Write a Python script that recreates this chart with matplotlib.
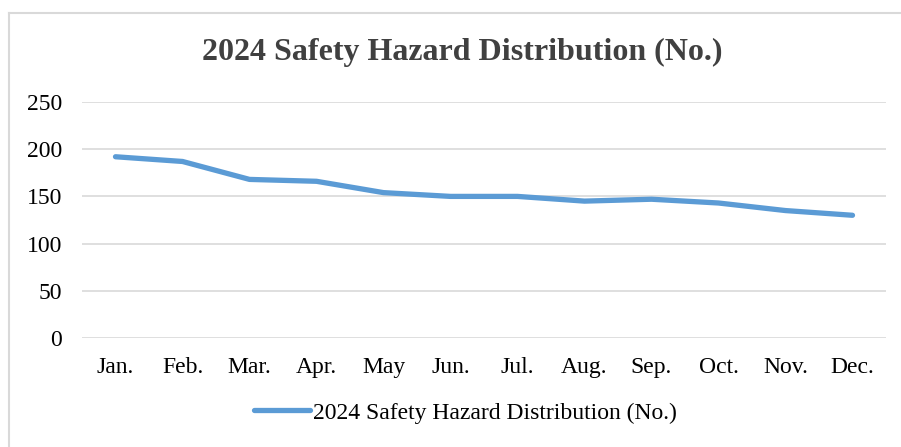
import matplotlib.pyplot as plt
from matplotlib.lines import Line2D

months = ["Jan.", "Feb.", "Mar.", "Apr.", "May", "Jun.", "Jul.", "Aug.", "Sep.", "Oct.", "Nov.", "Dec."]
hazards = [192, 187, 168, 166, 154, 150, 150, 145, 147, 143, 135, 130]
yticks = [0, 50, 100, 150, 200, 250]
series_name = "2024 Safety Hazard Distribution (No.)"

plt.rcParams['font.family'] = ['Liberation Serif', 'DejaVu Serif']

W, H = 901, 447
fig = plt.figure(figsize=(W / 100, H / 100), dpi=100)

# chart frame (light gray, only left and top visible)
fig.add_artist(Line2D([8.5 / W, 8.5 / W], [0, 1 - 12.5 / H], transform=fig.transFigure,
                      color='#d9d9d9', lw=1.5))
fig.add_artist(Line2D([8.5 / W, 1], [1 - 12.5 / H, 1 - 12.5 / H], transform=fig.transFigure,
                      color='#d9d9d9', lw=1.5))

ax = fig.add_axes([82 / W, 1 - 338 / H, (886 - 82) / W, (338 - 102) / H])

x = list(range(len(months)))
ax.plot(x, hazards, color='#5b9bd5', lw=3.8, solid_capstyle='round', solid_joinstyle='round',
        label=series_name, zorder=3)

ax.set_xlim(-0.5, len(months) - 0.5)
ax.set_ylim(0, 250)
ax.set_yticks(yticks)
ax.set_xticks(x)
ax.set_xticklabels(months)
ax.grid(axis='y', color='#d9d9d9', lw=1.2)
ax.set_axisbelow(True)
for s in ax.spines.values():
    s.set_visible(False)
ax.tick_params(axis='both', length=0, labelsize=17, colors='black')
ax.tick_params(axis='y', pad=14.5)
ax.tick_params(axis='x', pad=14)

fig.text(462 / W, 1 - 52 / H, series_name, ha='center', va='center',
         fontsize=23, fontweight='bold', color='#404040')

fig.legend(loc='center', bbox_to_anchor=(465 / W, 1 - 413 / H), frameon=False,
           fontsize=17, handlelength=2.4, handletextpad=0.1)

fig.savefig('out.png', dpi=100)
